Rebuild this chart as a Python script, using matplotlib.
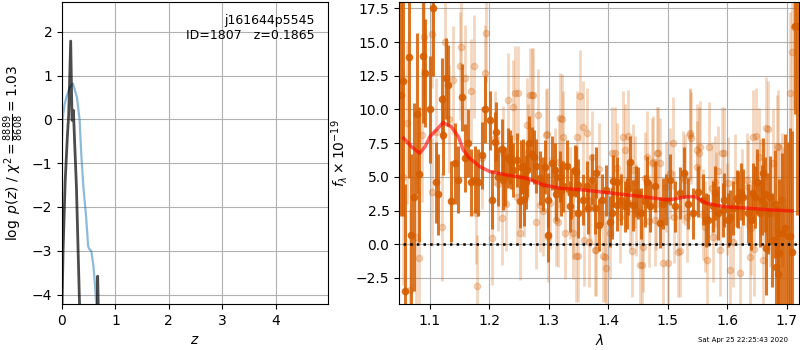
import matplotlib
matplotlib.use('Agg')
from matplotlib import pyplot as plt

# left panel: log p(z) and chi2 curves
pz_z = [0.0, 0.015, 0.05, 0.08, 0.14, 0.206, 0.28, 0.33, 0.36, 0.40, 0.45, 0.49, 0.51, 0.55, 0.59, 0.62, 0.64, 0.66]
pz_y = [-0.47, 0.05, 0.35, 0.5, 0.72, 0.82, 0.5, -0.01, -0.77, -1.53, -2.2, -2.9, -2.96, -3.01, -3.36, -3.81, -4.2, -4.8]

chi_z = [0.0, 0.02, 0.06, 0.10, 0.125, 0.163, 0.188, 0.213, 0.27, 0.33, 0.34, 0.65, 0.662, 0.668, 0.68, 0.69]
chi_y = [-4.3, -3.0, -1.4, -0.4, 0.1, 1.79, -0.02, 0.21, -1.53, -4.3, -6.0, -6.0, -4.3, -3.58, -4.3, -6.0]

# right panel: spectrum (one PA dark, other light) and model
dark_wave = [1.052, 1.055, 1.058, 1.065, 1.069, 1.074, 1.079, 1.082, 1.088, 1.092,
             1.101, 1.106, 1.110, 1.114, 1.120, 1.122, 1.127, 1.131, 1.136, 1.142,
             1.148, 1.154, 1.159, 1.164, 1.170, 1.176, 1.181, 1.187, 1.193, 1.201,
             1.205, 1.210, 1.215, 1.221, 1.226, 1.231, 1.235, 1.240, 1.246, 1.251,
             1.257, 1.262, 1.267, 1.271, 1.279, 1.285, 1.291, 1.299, 1.305, 1.313,
             1.319, 1.324, 1.331, 1.336, 1.344, 1.350, 1.358, 1.364, 1.372, 1.380,
             1.389, 1.397, 1.406, 1.414, 1.422, 1.428, 1.434, 1.442, 1.450, 1.456,
             1.462, 1.470, 1.479, 1.487, 1.493, 1.498, 1.504, 1.512, 1.521, 1.527,
             1.535, 1.543, 1.551, 1.560, 1.568, 1.577, 1.585, 1.594, 1.602, 1.610,
             1.619, 1.627, 1.636, 1.644, 1.650, 1.658, 1.664, 1.669, 1.675, 1.680,
             1.686, 1.692, 1.698, 1.706, 1.710, 1.714, 1.718,
             1.212, 1.223, 1.237, 1.254, 1.259, 1.264, 1.276, 1.294, 1.298, 1.310,
             1.321, 1.338, 1.345, 1.349, 1.366, 1.377, 1.384, 1.403, 1.408, 1.415,
             1.431, 1.437, 1.446, 1.466, 1.565, 1.579, 1.593, 1.605, 1.616, 1.624,
             1.640, 1.647, 1.655, 1.660, 1.672, 1.666, 1.682, 1.688, 1.703]
dark_flux = [11.1, 12.1, -3.5, 13.9, 0.7, 3.5, 9.7, 5.2, 14.0, 12.7,
             10.0, 17.5, 4.6, 3.7, 10.8, 8.1, 12.3, 11.8, 3.2, 6.0,
             4.8, 10.9, 6.4, 7.5, 4.6, 4.8, 4.6, 6.6, 10.0, 9.2,
             3.3, 7.6, 5.0, 7.1, 5.0, 6.4, 6.5, 5.5, 6.25, 3.2,
             5.8, 4.6, 7.5, 6.7, 5.8, 4.9, 4.5, 3.3, 6.0, 3.7,
             5.0, 4.3, 5.8, 2.8, 5.5, 4.4, 3.3, 4.3, 4.8, 5.3,
             3.3, 4.0, 2.3, 4.6, 3.3, 2.8, 4.1, 2.9, 3.8, 2.3,
             3.2, 2.8, 4.3, 1.6, 3.0, 3.3, 4.8, 2.8, 3.8, 5.3,
             3.0, 2.3, 3.9, 3.3, 1.8, 2.8, 2.3, 3.3, 1.8, 2.7,
             3.3, 3.5, 2.3, 3.8, 4.65, 3.3, 3.7, 2.3, 0.3, 3.0,
             -2.2, 0.8, 1.2, 0.6, -0.6, 16.2, 16.2,
             8.35, 4.77, 6.12, 5.75, 3.34, 5.5, 6.5, 5.75, 0.69, 5.5,
             4.03, 3.78, 5.38, 2.34, 2.67, 2.67, 1.43, 1.68, 4.69, 2.91,
             3.04, 6.12, 3.9, 4.64, 1.8, 3.78, 2.54, 2.05, 3.41, 3.9,
             1.8, 3.53, 2.3, 5.26, 3.53, -0.3, -1.66, -0.67, 0.62]
dark_err = [9.0, 10.0, 8.0, 9.0, 6.0, 7.0, 6.0, 5.0, 5.0, 4.0,
            4.0, 5.0, 3.0, 3.0, 3.0, 3.0, 3.0, 3.0, 3.0, 3.0,
            2.5, 2.5, 2.5, 2.5, 2.5, 2.5, 2.5, 2.5, 2.5, 2.2,
            2.2, 2.2, 2.2, 2.2, 2.2, 2.2, 2.0, 2.0, 2.0, 2.0,
            2.0, 2.0, 2.0, 2.0, 2.0, 2.0, 2.0, 2.0, 2.0, 2.0,
            1.9, 1.9, 1.9, 1.9, 1.9, 1.9, 1.9, 1.9, 1.9, 1.9,
            1.9, 1.9, 1.9, 1.9, 1.9, 1.9, 1.9, 1.9, 1.9, 1.9,
            1.9, 1.9, 1.9, 1.9, 1.9, 1.9, 1.9, 1.9, 1.9, 1.9,
            1.9, 1.9, 1.9, 1.9, 1.9, 1.9, 2.0, 2.0, 2.0, 2.0,
            2.1, 2.1, 2.2, 2.2, 2.4, 2.6, 2.8, 3.0, 3.5, 4.0,
            5.0, 6.0, 7.0, 8.0, 9.0, 6.5, 14.0,
            2.2, 2.2, 2.0, 2.0, 2.0, 2.0, 2.0, 2.0, 2.0, 2.0,
            1.9, 1.9, 1.9, 1.9, 1.9, 1.9, 1.9, 1.9, 1.9, 1.9,
            1.9, 1.9, 1.9, 1.9, 2.0, 2.0, 2.0, 2.0, 2.1, 2.1,
            2.2, 2.3, 2.5, 2.6, 3.0, 3.5, 4.5, 5.5, 7.0]

light_wave = [1.055, 1.062, 1.066, 1.076, 1.082, 1.086, 1.090, 1.103, 1.104, 1.110,
              1.120, 1.125, 1.132, 1.139, 1.150, 1.153, 1.159, 1.170, 1.174, 1.178,
              1.180, 1.187, 1.193, 1.195, 1.204, 1.209, 1.215, 1.221, 1.223, 1.228,
              1.232, 1.240, 1.246, 1.249, 1.251, 1.258, 1.263, 1.268, 1.274, 1.279,
              1.282, 1.290, 1.296, 1.302, 1.310, 1.313, 1.319, 1.324, 1.327, 1.336,
              1.340, 1.347, 1.350, 1.358, 1.360, 1.364, 1.370, 1.372, 1.380, 1.385,
              1.392, 1.397, 1.403, 1.411, 1.420, 1.425, 1.428, 1.437, 1.440, 1.445,
              1.453, 1.462, 1.468, 1.473, 1.480, 1.484, 1.493, 1.504, 1.510, 1.521,
              1.530, 1.537, 1.540, 1.549, 1.554, 1.560, 1.566, 1.574, 1.582, 1.585,
              1.594, 1.600, 1.605, 1.613, 1.622, 1.625, 1.633, 1.640, 1.644, 1.653,
              1.655, 1.661, 1.666, 1.672, 1.678, 1.686, 1.692, 1.706, 1.709, 1.712,
              1.244, 1.272, 1.323, 1.352, 1.297, 1.299, 1.316, 1.341, 1.346, 1.367,
              1.377, 1.265, 1.285, 1.318, 1.406, 1.394, 1.433, 1.457, 1.459, 1.466,
              1.482, 1.487, 1.501, 1.509, 1.518, 1.538, 1.553, 1.414, 1.442, 1.476,
              1.447, 1.478, 1.532, 1.549, 1.498, 1.526, 1.570, 1.592, 1.649, 1.669,
              1.684, 1.562, 1.576, 1.588, 1.610, 1.638, 1.646, 1.602, 1.579, 1.636,
              1.689, 1.694]
light_flux = [5.0, 9.0, -3.4, 0.5, -1.0, 8.1, 15.4, 15.6, 3.85, 8.35,
              1.3, 15.0, 9.3, 12.2, 13.2, 14.65, 12.3, 11.4, 13.2, 2.3,
              -3.1, 6.4, 12.7, 15.65, 0.45, 7.86, 4.5, 1.93, 6.75, 3.0,
              10.7, 10.2, 3.53, 11.2, 0.82, 4.0, 8.85, 11.07, 11.07, 1.68,
              9.6, 2.5, 8.1, 3.04, 5.2, 1.8, 9.34, 7.98, 0.82, 3.78,
              2.3, 7.98, -0.91, 8.72, 0.32, 8.23, 3.2, 6.5, -0.42, 5.6,
              -0.91, -1.78, 0.82, 6.75, 2.0, 7.98, 7.0, 3.04, -0.54, 4.6,
              -1.53, 4.9, 1.7, 6.0, 3.0, 6.75, -1.41, 5.26, 2.0, -0.54,
              4.8, 8.23, 7.86, 7.0, 7.24, 2.2, -1.16, 4.15, 3.41, 5.4,
              6.75, 2.6, -1.9, 4.77, -2.15, 3.6, 4.77, 1.2, 7.98, 6.5,
              4.2, -1.16, 8.6, 2.3, 6.0, 7.24, 3.29, 11.2, 14.3, 16.1,
              11.2, 11.1, 9.27, 11.0, 8.18, 0.57, 1.68, 0.82, -0.87, 0.2,
              -0.42, 6.87, 2.91, 6.12, 6.75, -0.92, 8.03, -1.53, -0.18, 6.5,
              6.75, 6.0, -1.41, 7.49, -0.55, 8.1, 6.75, 5.63, 5.51, 6.12,
              2.54, 1.8, 2.05, 5.75, 4.27, 5.0, 7.19, 6.75, 8.03, 8.52,
              7.29, 1.3, 0.57, -0.42, 0.2, -0.92, -0.37, 4.52, 4.64, 4.27,
              3.28, 2.79]
light_err = [8.0, 6.0, 6.0, 6.0, 5.0, 5.0, 4.5, 4.0, 4.0, 4.0,
             4.0, 4.0, 4.0, 4.0, 4.0, 4.0, 4.0, 3.8, 3.8, 3.8,
             3.8, 3.8, 3.6, 3.6, 3.5, 3.5, 3.5, 3.5, 3.5, 3.5,
             3.5, 3.5, 3.5, 3.5, 3.5, 3.5, 3.5, 3.5, 3.5, 3.5,
             3.4, 3.4, 3.4, 3.4, 3.4, 3.4, 3.4, 3.4, 3.4, 3.4,
             3.4, 3.4, 3.4, 3.4, 3.4, 3.4, 3.4, 3.4, 3.4, 3.4,
             3.4, 3.4, 3.4, 3.4, 3.4, 3.4, 3.4, 3.4, 3.4, 3.4,
             3.4, 3.4, 3.4, 3.4, 3.4, 3.4, 3.4, 3.4, 3.4, 3.4,
             3.4, 3.4, 3.4, 3.4, 3.4, 3.4, 3.4, 3.4, 3.4, 3.4,
             3.4, 3.4, 3.4, 3.4, 3.5, 3.5, 3.5, 3.5, 3.5, 3.6,
             3.6, 3.8, 3.8, 4.0, 4.0, 4.2, 5.0, 6.0, 6.0, 6.0,
             3.5, 3.5, 3.4, 3.4, 3.4, 3.4, 3.4, 3.4, 3.4, 3.4,
             3.4, 3.5, 3.5, 3.4, 3.4, 3.4, 3.4, 3.4, 3.4, 3.4,
             3.4, 3.4, 3.4, 3.4, 3.4, 3.4, 3.4, 3.4, 3.4, 3.4,
             3.4, 3.4, 3.4, 3.4, 3.4, 3.4, 3.4, 3.4, 3.6, 3.6,
             3.8, 3.4, 3.4, 3.4, 3.4, 3.5, 3.5, 3.4, 3.4, 3.5,
             4.2, 4.4]

model_wave = [1.056, 1.069, 1.083, 1.092, 1.100, 1.111, 1.122, 1.136, 1.148, 1.156,
              1.167, 1.184, 1.201, 1.229, 1.263, 1.291, 1.319, 1.358, 1.408, 1.465,
              1.498, 1.509, 1.532, 1.546, 1.565, 1.594, 1.633, 1.672, 1.709]
model_flux = [7.86, 7.24, 6.75, 7.24, 7.98, 8.48, 9.02, 8.72, 7.98, 7.0,
              6.38, 5.76, 5.39, 5.14, 4.89, 4.40, 4.15, 4.03, 3.78, 3.49,
              3.29, 3.34, 3.53, 3.53, 3.04, 2.79, 2.67, 2.55, 2.47]

root = 'j161644p5545'
obj_id = 1807
z_best = 0.1865
chi2_num, chi2_den = 8889, 8608

g141_color = (0.8352941176470589, 0.3686274509803922, 0.0)

fig = plt.figure(figsize=(8, 3.5), dpi=100)
ax = fig.add_axes([0.0775, 0.131, 0.333, 0.863])
ax.plot(pz_z, pz_y, color='C0', alpha=0.5, lw=1.6)
ax.plot(chi_z, chi_y, color='k', alpha=0.7, lw=2)
ax.set_xlim(0, 4.99)
ax.set_ylim(-4.22, 2.68)
ax.set_xticks([0, 1, 2, 3, 4])
ax.set_yticks([-4, -3, -2, -1, 0, 1, 2])
ax.grid()
ax.set_xlabel(r'$z$')
ax.set_ylabel(r'$\log\ p(z)$' + ' / ' +
              r'$\chi^2=\frac{%d}{%d}=%.2f$' % (chi2_num, chi2_den, chi2_num / chi2_den))
ax.text(0.95, 0.96, '{0}\nID={1}   z={2:.4f}'.format(root, obj_id, z_best),
        ha='right', va='top', transform=ax.transAxes, fontsize=9)

ax = fig.add_axes([0.499, 0.131, 0.5, 0.863])
ax.errorbar(light_wave, light_flux, light_err, color=g141_color, alpha=0.25,
            marker='o', ms=4.5, linestyle='None', elinewidth=2.0)
ax.errorbar(dark_wave, dark_flux, dark_err, color=g141_color, alpha=0.85,
            marker='o', ms=4.5, linestyle='None', elinewidth=2.2)
ax.plot(model_wave, model_flux, color='r', alpha=0.6, lw=2.5, zorder=10)
ax.plot([1.0, 1.8], [0, 0], 'k:', lw=1.8, zorder=11)
ax.set_xlim(1.0484, 1.7213)
ax.set_ylim(-4.45, 17.97)
ax.set_xticks([1.1, 1.2, 1.3, 1.4, 1.5, 1.6, 1.7])
ax.set_yticks([-2.5, 0, 2.5, 5, 7.5, 10, 12.5, 15, 17.5])
ax.grid()
ax.set_xlabel(r'$\lambda$')
ax.set_ylabel(r'$f_\lambda\times10^{-19}$')

fig.text(0.985, 0.02, 'Sat Apr 25 22:25:43 2020', ha='right', va='bottom', fontsize=5)

fig.savefig('out.png')
